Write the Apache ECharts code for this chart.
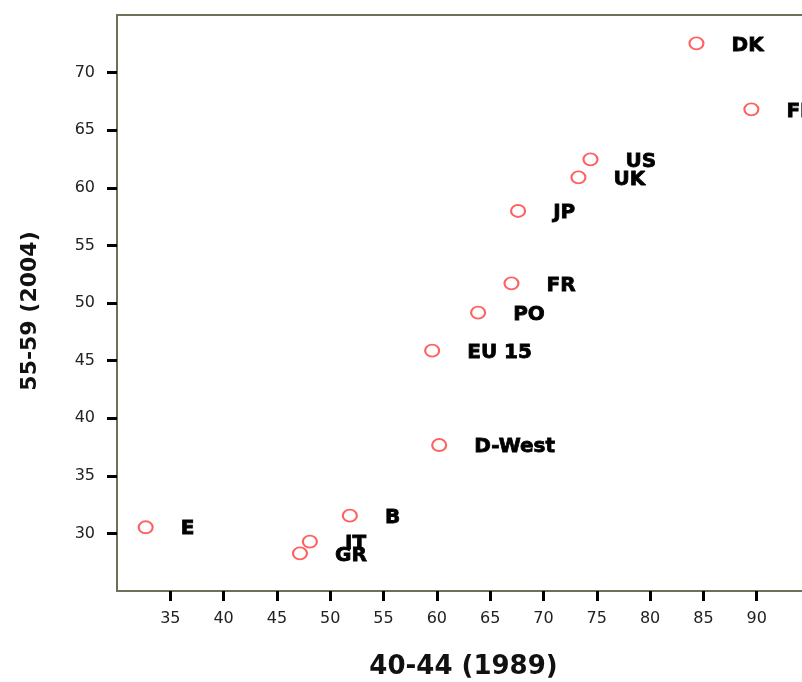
<!DOCTYPE html>
<html>
<head>
<meta charset="utf-8">
<script src="https://cdn.jsdelivr.net/npm/echarts@6/dist/echarts.min.js"></script>
<style>
html,body{margin:0;padding:0;background:#fff;}
#chart{width:802px;height:682px;}
</style>
</head>
<body>
<div id="chart"></div>
<script>
var countries = ['DK', 'FI', 'US', 'UK', 'JP', 'FR', 'PO', 'EU 15', 'D-West', 'B', 'E', 'IT', 'GR'];
var xValues = [84.35, 89.5, 74.41, 73.28, 67.62, 67.0, 63.87, 59.56, 60.22, 51.84, 32.69, 48.09, 47.16];
var yValues = [72.54, 66.81, 62.47, 60.91, 57.99, 51.71, 49.16, 45.86, 37.67, 31.54, 30.53, 29.28, 28.27];
var xName = '40-44 (1989)';
var yName = '55-59 (2004)';

var points = countries.map(function (c, i) { return { name: c, value: [xValues[i], yValues[i]] }; });

var frameLine = { color: '#707058', width: 2 };
var chart = echarts.init(document.getElementById('chart'), null, { renderer: 'canvas' });
chart.setOption({
  animation: false,
  backgroundColor: '#ffffff',
  grid: { left: 117, top: 15, width: 693, height: 576, outerBoundsMode: 'none', containLabel: false },
  xAxis: [{
    type: 'value', min: 30, max: 95, interval: 5, position: 'bottom',
    name: xName, nameLocation: 'middle', nameGap: 63,
    nameTextStyle: { fontFamily: 'DejaVu Sans', fontWeight: 'bold', fontSize: 26, color: '#111' },
    axisLine: { show: true, lineStyle: frameLine },
    axisTick: { show: true, length: 10, lineStyle: { color: '#000', width: 3 } },
    axisLabel: { showMinLabel: false, showMaxLabel: false, margin: 20, fontFamily: 'DejaVu Sans', fontSize: 16, color: '#222' },
    splitLine: { show: false }
  }, {
    type: 'value', min: 30, max: 95, interval: 5, position: 'top',
    axisLine: { show: true, onZero: false, lineStyle: frameLine },
    axisTick: { show: false }, axisLabel: { show: false }, splitLine: { show: false }
  }],
  yAxis: {
    type: 'value', min: 25, max: 75, interval: 5,
    name: yName, nameLocation: 'middle', nameGap: 76, nameRotate: 90,
    nameTextStyle: { fontFamily: 'DejaVu Sans', fontWeight: 'bold', fontSize: 22, color: '#111', padding: [0, 16, 0, 0] },
    axisLine: { show: true, onZero: false, lineStyle: frameLine },
    axisTick: { show: true, length: 10, lineStyle: { color: '#000', width: 3 } },
    axisLabel: { showMinLabel: false, showMaxLabel: false, margin: 22, fontFamily: 'DejaVu Sans', fontSize: 16, color: '#222' },
    splitLine: { show: false }
  },
  series: [{
    type: 'scatter',
    data: points,
    symbol: 'emptyCircle',
    symbolSize: [14, 12],
    itemStyle: { color: '#ff3a3a', borderWidth: 1.5 },
    label: {
      show: true, position: 'right', distance: 27, offset: [0, 2],
      formatter: '{b}', opacity: 1,
      fontFamily: 'DejaVu Sans', fontWeight: 'bold', fontSize: 20, color: '#000000',
      textBorderColor: '#000000', textBorderWidth: 0.8
    },
    emphasis: { disabled: true }
  }]
});
</script>
</body>
</html>
